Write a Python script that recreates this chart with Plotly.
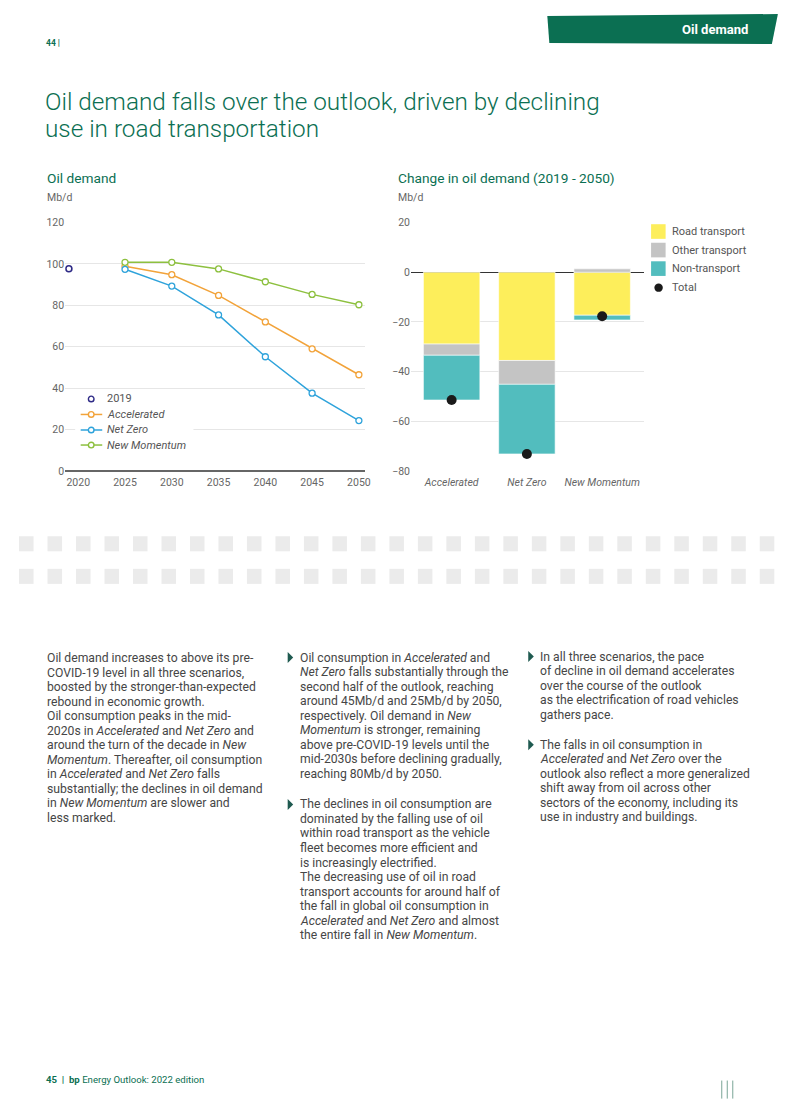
import plotly.graph_objects as go

W, H = 793, 1118

# ---------------- data ----------------
years = [2025, 2030, 2035, 2040, 2045, 2050]
year_2019 = [2019]
demand_2019 = [97.7]
accelerated = [98.9, 94.8, 84.8, 72.0, 59.0, 46.5]
net_zero = [97.4, 89.3, 75.4, 55.2, 37.6, 24.4]
new_momentum = [100.8, 100.8, 97.6, 91.4, 85.3, 80.3]

scenarios = ["Accelerated", "Net Zero", "New Momentum"]
road_transport = [-28.9, -35.5, -17.3]
other_transport = [-4.5, -9.6, 1.35]
non_transport = [-18.0, -28.0, -1.9]
total_change = [-51.4, -73.1, -17.7]

left_yticks = [0, 20, 40, 60, 80, 100, 120]
left_xticks = [2020, 2025, 2030, 2035, 2040, 2045, 2050]
right_yticks = [-80, -60, -40, -20, 0, 20]

# ---------------- styles ----------------
GREEN = "#0b6f52"
TXT = "#464646"
TICK = "#666666"
GRID = "#e6e6e6"
FONT = "Roboto, Liberation Sans, Arial, sans-serif"
C_ACC = "#f2a33a"
C_NZ = "#2fa3db"
C_NM = "#8dc03f"
C_2019 = "#2e2a86"
C_ROAD = "#fdee5b"
C_OTHER = "#c4c4c4"
C_NON = "#52bdbe"

# page-pixel -> paper mapping (compensates page offset / scaling of the photo)
OFFX, SX = 8.0, 0.99
OFFY, SY = 14.0, 0.986


def X(px):
    return ((px - OFFX) / SX) / W


def Y(py):
    return 1 - ((py - OFFY) / SY) / H


fig = go.Figure()

# ---------------- left chart ----------------
fig.add_trace(go.Scatter(
    x=year_2019, y=demand_2019, mode="markers", name="2019", showlegend=False,
    marker=dict(symbol="circle", size=6, color="white", line=dict(color=C_2019, width=1.6)),
    xaxis="x", yaxis="y"))
for name, vals, col in [("Accelerated", accelerated, C_ACC),
                        ("Net Zero", net_zero, C_NZ),
                        ("New Momentum", new_momentum, C_NM)]:
    fig.add_trace(go.Scatter(
        x=years, y=vals, mode="lines+markers", name=name, showlegend=False,
        line=dict(color=col, width=1.5),
        marker=dict(symbol="circle", size=6, color="white", line=dict(color=col, width=1.3)),
        xaxis="x", yaxis="y"))

# ---------------- right chart ----------------
for name, vals, col in [("Road transport", road_transport, C_ROAD),
                        ("Other transport", other_transport, C_OTHER),
                        ("Non-transport", non_transport, C_NON)]:
    fig.add_trace(go.Bar(
        x=scenarios, y=vals, name=name, showlegend=False,
        marker=dict(color=col, line=dict(color="white", width=0.6)),
        xaxis="x2", yaxis="y2"))
fig.add_trace(go.Scatter(
    x=scenarios, y=total_change, mode="markers", name="Total", showlegend=False,
    marker=dict(color="#1a1a1a", size=10), xaxis="x2", yaxis="y2"))

axis_font = dict(family=FONT, size=10.5, color=TICK)

fig.update_layout(
    width=W, height=H, margin=dict(l=0, r=0, t=0, b=0),
    paper_bgcolor="white", plot_bgcolor="white",
    font=dict(family=FONT, color=TXT),
    barmode="relative", bargap=0.25, showlegend=False,
    xaxis=dict(domain=[X(65), X(364)], range=[2018.6, 2050.64],
               tickvals=left_xticks, showgrid=False, zeroline=False,
               tickfont=axis_font, ticks="", ticklabelstandoff=3, fixedrange=True),
    yaxis=dict(domain=[Y(470), Y(222)], range=[0, 120], tickvals=left_yticks,
               showgrid=True, gridcolor=GRID, gridwidth=1,
               zeroline=True, zerolinecolor="#666666", zerolinewidth=1.5,
               tickfont=axis_font, ticks="", anchor="x"),
    xaxis2=dict(domain=[X(410), X(642)], range=[-0.54, 2.55], type="category",
                tickvals=scenarios, ticktext=[f"<i>{s}</i>" for s in scenarios],
                showgrid=False, zeroline=False, tickfont=axis_font, ticks="",
                ticklabelstandoff=3, anchor="y2"),
    yaxis2=dict(domain=[Y(470), Y(222)], range=[-80, 20], tickvals=right_yticks,
                showgrid=True, gridcolor=GRID, gridwidth=1,
                zeroline=True, zerolinecolor="#333333", zerolinewidth=1.2,
                tickfont=axis_font, ticks="", anchor="x2"),
)

shapes = []
annotations = []

# top banner
shapes.append(dict(type="path", xref="paper", yref="paper",
                   path=f"M {X(546)},{Y(16)} L {X(776)},{Y(14)} L {X(770)},{Y(44)} L {X(548)},{Y(43)} Z",
                   fillcolor=GREEN, line=dict(width=0)))
annotations.append(dict(text="<b>Oil demand</b>", x=X(748), y=Y(29), xanchor="right", yanchor="middle",
                        font=dict(family=FONT, size=13, color="white")))
annotations.append(dict(text="<b>44 |</b>", x=X(44), y=Y(43), xanchor="left", yanchor="middle",
                        font=dict(family=FONT, size=8.5, color=GREEN)))

# headline
annotations.append(dict(text="Oil demand falls over the outlook, driven by declining",
                        x=X(43), y=Y(101.5), xanchor="left", yanchor="middle",
                        font=dict(family=FONT, size=24.3, color=GREEN, weight=300)))
annotations.append(dict(text="use in road transportation",
                        x=X(43), y=Y(128.5), xanchor="left", yanchor="middle",
                        font=dict(family=FONT, size=24.3, color=GREEN, weight=300)))

# chart titles
for txt, px in [("Oil demand", 45), ("Change in oil demand (2019 - 2050)", 395)]:
    annotations.append(dict(text=txt, x=X(px), y=Y(178), xanchor="left", yanchor="middle",
                            font=dict(family=FONT, size=13.7, color=GREEN)))
    annotations.append(dict(text="Mb/d", x=X(px), y=Y(197), xanchor="left", yanchor="middle",
                            font=dict(family=FONT, size=10.5, color=TICK)))

# manual left legend
shapes.append(dict(type="rect", xref="paper", yref="paper", x0=X(75), x1=X(193), y0=Y(452), y1=Y(390),
                   fillcolor="white", line=dict(width=0), layer="above"))
leg_items = [("2019", C_2019, False, 398), ("<i>Accelerated</i>", C_ACC, True, 413.5),
             ("<i>Net Zero</i>", C_NZ, True, 429), ("<i>New Momentum</i>", C_NM, True, 444)]
for txt, col, has_line, py in leg_items:
    if has_line:
        shapes.append(dict(type="line", xref="paper", yref="paper", x0=X(80.5), x1=X(102), y0=Y(py), y1=Y(py),
                           line=dict(color=col, width=1.5), layer="above"))
    r = 2.8
    shapes.append(dict(type="circle", xref="paper", yref="paper", x0=X(91 - r), x1=X(91 + r),
                       y0=Y(py + r), y1=Y(py - r), fillcolor="white",
                       line=dict(color=col, width=1.4), layer="above"))
    annotations.append(dict(text=txt, x=X(104.5), y=Y(py), xanchor="left", yanchor="middle",
                            font=dict(family=FONT, size=11, color="#555555")))

# manual right legend
right_leg = [("Road transport", C_ROAD, "sq", 231), ("Other transport", C_OTHER, "sq", 249.5),
             ("Non-transport", C_NON, "sq", 268), ("Total", "#1a1a1a", "dot", 287)]
for txt, col, kind, py in right_leg:
    if kind == "sq":
        shapes.append(dict(type="rect", xref="paper", yref="paper", x0=X(649.5), x1=X(664),
                           y0=Y(py + 7.3), y1=Y(py - 7.3), fillcolor=col, line=dict(width=0)))
    else:
        r = 4.2
        shapes.append(dict(type="circle", xref="paper", yref="paper", x0=X(657 - r), x1=X(657 + r),
                           y0=Y(py + r), y1=Y(py - r), fillcolor=col, line=dict(width=0)))
    annotations.append(dict(text=txt, x=X(668), y=Y(py), xanchor="left", yanchor="middle",
                            font=dict(family=FONT, size=11, color="#555555")))

# decorative grey squares
for row_top in (535, 567.5):
    for i in range(27):
        x0 = 19 + i * 28.42
        shapes.append(dict(type="rect", xref="paper", yref="paper", x0=X(x0), x1=X(x0 + 14.5),
                           y0=Y(row_top + 15), y1=Y(row_top), fillcolor="#ebebeb", line=dict(width=0)))

# body text
STEP = 14.5
col1 = ["Oil demand increases to above its pre-",
        "COVID-19 level in all three scenarios,",
        "boosted by the stronger-than-expected",
        "rebound in economic growth.",
        "Oil consumption peaks in the mid-",
        "2020s in <i>Accelerated</i> and <i>Net Zero</i> and",
        "around the turn of the decade in <i>New</i>",
        "<i>Momentum</i>. Thereafter, oil consumption",
        "in <i>Accelerated</i> and <i>Net Zero</i> falls",
        "substantially; the declines in oil demand",
        "in <i>New Momentum</i> are slower and",
        "less marked."]
col2a = ["Oil consumption in <i>Accelerated</i> and",
         "<i>Net Zero</i> falls substantially through the",
         "second half of the outlook, reaching",
         "around 45Mb/d and 25Mb/d by 2050,",
         "respectively. Oil demand in <i>New</i>",
         "<i>Momentum</i> is stronger, remaining",
         "above pre-COVID-19 levels until the",
         "mid-2030s before declining gradually,",
         "reaching 80Mb/d by 2050."]
col2b = ["The declines in oil consumption are",
         "dominated by the falling use of oil",
         "within road transport as the vehicle",
         "fleet becomes more efficient and",
         "is increasingly electrified.",
         "The decreasing use of oil in road",
         "transport accounts for around half of",
         "the fall in global oil consumption in",
         "<i>Accelerated</i> and <i>Net Zero</i> and almost",
         "the entire fall in <i>New Momentum</i>."]
col3a = ["In all three scenarios, the pace",
         "of decline in oil demand accelerates",
         "over the course of the outlook",
         "as the electrification of road vehicles",
         "gathers pace."]
col3b = ["The falls in oil consumption in",
         "<i>Accelerated</i> and <i>Net Zero</i> over the",
         "outlook also reflect a more generalized",
         "shift away from oil across other",
         "sectors of the economy, including its",
         "use in industry and buildings."]

blocks = [(col1, 45, 656.5, False), (col2a, 297, 656, True), (col2b, 297, 802.5, True),
          (col3a, 537, 655, True), (col3b, 537, 743, True)]
for lines, px, py0, bullet in blocks:
    for k, line in enumerate(lines):
        annotations.append(dict(text=line, x=X(px), y=Y(py0 + k * STEP), xanchor="left", yanchor="middle",
                                font=dict(family=FONT, size=12.2, color=TXT)))
    if bullet:
        bx = px - 10
        shapes.append(dict(type="path", xref="paper", yref="paper",
                           path=f"M {X(bx)},{Y(py0 - 5.5)} L {X(bx + 5.5)},{Y(py0)} L {X(bx)},{Y(py0 + 5.5)} Z",
                           fillcolor="#1f5a50", line=dict(width=0)))

# footer
annotations.append(dict(text="<b>45  |  bp</b> Energy Outlook: 2022 edition", x=X(44), y=Y(1077),
                        xanchor="left", yanchor="middle", font=dict(family=FONT, size=9.6, color=GREEN)))
for lx in (720, 725.5, 731):
    shapes.append(dict(type="line", xref="paper", yref="paper", x0=X(lx), x1=X(lx), y0=Y(1096), y1=Y(1078),
                       line=dict(color="#7aa596", width=1)))

for a in annotations:
    a.setdefault("xref", "paper")
    a.setdefault("yref", "paper")
    a.setdefault("showarrow", False)

fig.update_layout(shapes=shapes, annotations=annotations)
fig.write_html("out.html")
